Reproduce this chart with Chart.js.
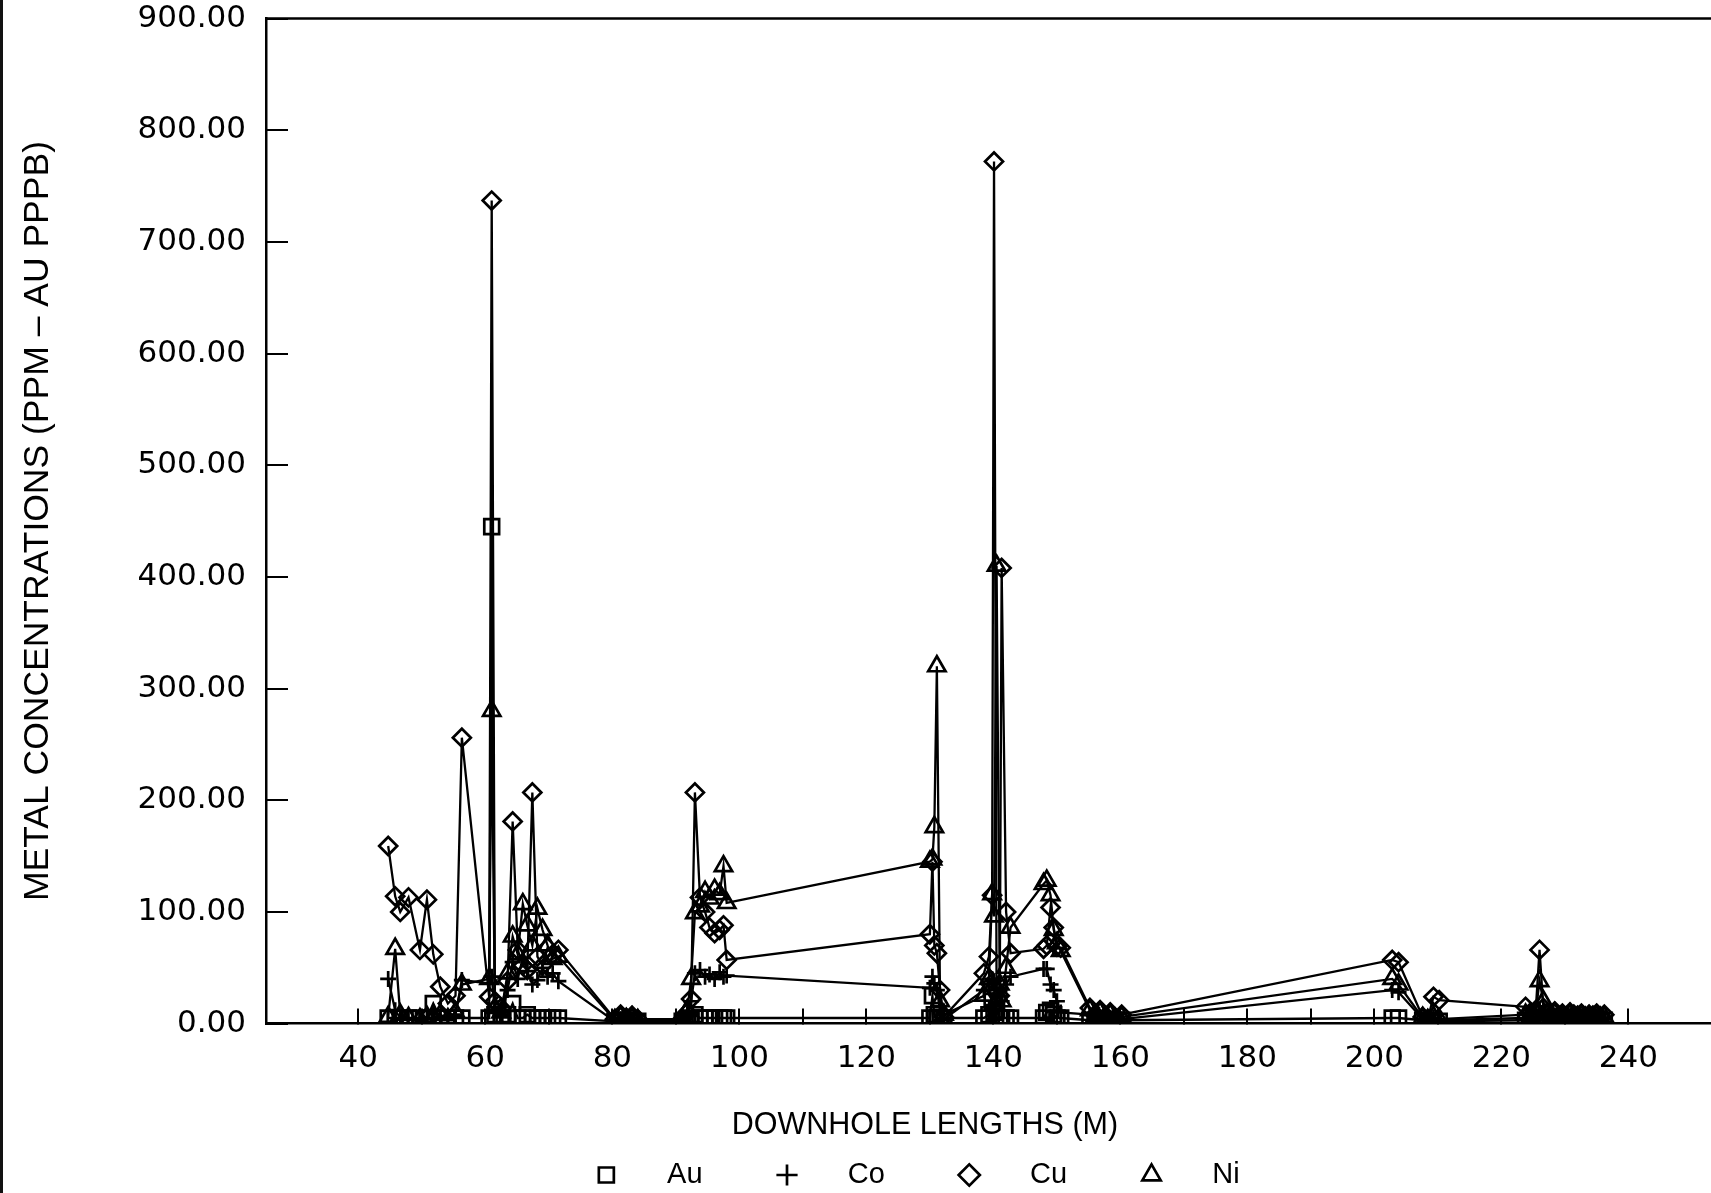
<!DOCTYPE html>
<html>
<head>
<meta charset="utf-8">
<title>Metal concentrations vs downhole length</title>
<script src="https://cdn.jsdelivr.net/npm/chart.js@4.4.1/dist/chart.umd.min.js"></script>
<style>
  html, body { margin: 0; padding: 0; background: #fff; overflow: hidden; }
  body { width: 1711px; height: 1193px; box-shadow: inset 3px 0 0 #111; }
  canvas { display: block; }
</style>
</head>
<body>
<canvas id="metalChart" width="1711" height="1193"></canvas>
<script>
// sample depths (m), shared by the four assays
const depths = [
  44.7, 45.8, 46.6, 47.9, 49.7, 50.8, 51.8, 52.9, 54.1, 55.3, 56.3,
  60.6, 61.0, 61.5, 62.5,
  63.5, 64.3, 65.1, 65.9, 66.6, 67.4, 68.2, 69.0, 69.8, 70.6, 71.5,
  80.4, 81.3, 82.2, 83.1, 84.0,
  91.0, 91.8, 92.4, 93.0, 93.8, 94.6, 95.3, 96.1, 96.9, 97.5, 98.0,
  130.0, 130.4, 130.7, 131.1, 131.6, 132.2,
  138.5, 139.3, 139.8, 140.1, 140.5, 141.0, 141.3, 142.0, 142.7,
  147.9, 148.4, 149.0, 149.5, 150.0, 150.6,
  155.2, 156.0, 156.8, 157.6, 158.4, 159.2, 160.2,
  202.8, 203.8,
  207.6, 208.4, 209.3, 210.2,
  223.8, 224.6, 225.4, 226.0, 226.6, 227.2, 227.8, 228.4, 229.0, 229.6, 230.2,
  230.8, 231.4, 232.0, 232.6, 233.2, 233.8, 234.4, 235.0, 235.6, 236.2
];

// Au in ppb, the rest in ppm
const au = [
  5, 5, 5, 5, 5, 5, 18, 5, 5, 5, 5,
  5, 445, 8, 5,
  8, 18, 5, 5, 8, 5, 5, 5, 5, 5, 5,
  2, 3, 2, 3, 2,
  2, 3, 5, 8, 5, 5, 5, 5, 5, 5, 5,
  5, 25, 8, 5, 5, 5,
  5, 8, 20, 10, 12, 5, 5, 5, 5,
  5, 10, 12, 8, 5, 5,
  3, 2, 4, 2, 3, 2, 3,
  5, 5,
  3, 2, 3, 2,
  3, 2, 3, 4, 3, 2, 3, 2, 3, 2, 3, 2, 3, 2, 3, 2, 3, 2, 3, 2, 3
];
const co = [
  40, 12, 5, 4, 3, 5, 4, 6, 3, 8, 39,
  36, 42, 12, 8,
  30, 55, 40, 59, 47, 35, 39, 50, 42, 45, 38,
  2, 4, 3, 4, 2,
  2, 8, 20, 45, 48, 42, 44, 40, 46, 42, 43,
  32, 42, 36, 30, 12, 4,
  30, 35, 40, 38, 30, 25, 20, 35, 42,
  49, 49, 35, 30, 20, 10,
  8, 4, 6, 3, 5, 3, 4,
  30, 28,
  4, 2, 5, 3,
  5, 4, 6, 12, 8, 5, 4, 6, 3, 5, 3, 5, 4, 3, 5, 3, 4, 3, 5, 3, 4
];
const cu = [
  159, 114, 100, 113, 66, 111, 62, 33, 18, 25, 256,
  24, 737, 20, 14,
  38, 181, 66, 52, 48, 207, 60, 52, 68, 62, 66,
  4, 8, 5, 7, 4,
  4, 10, 22, 207, 113, 100, 86, 81, 84, 88, 57,
  80, 145, 70, 63, 30, 6,
  45, 60, 115, 772, 30, 25, 408, 100, 63,
  67, 70, 104, 86, 69, 68,
  14, 8, 12, 6, 10, 5, 8,
  57, 55,
  6, 4, 24, 21,
  15, 10, 12, 66, 14, 10, 8, 11, 7, 9, 6, 10, 8, 7, 9, 6, 8, 7, 9, 6, 8
];
const ni = [
  6, 67, 8, 5, 4, 6, 5, 8, 4, 10, 35,
  40, 280, 14, 10,
  45, 78, 62, 107, 88, 70, 103, 84, 70, 58, 60,
  3, 6, 4, 5, 3,
  3, 12, 40, 99, 105, 118, 112, 120, 116, 141, 108,
  145, 147, 176, 320, 20, 8,
  25, 40, 116, 96, 410, 35, 20, 50, 86,
  125, 128, 115, 84, 72, 65,
  12, 6, 10, 5, 8, 4, 6,
  40, 35,
  5, 3, 6, 4,
  8, 6, 10, 38, 20, 8, 6, 9, 5, 7, 5, 8, 6, 5, 7, 5, 6, 5, 7, 5, 6
];

const seriesNames = ['Au', 'Co', 'Cu', 'Ni'];
const xTickValues = [40, 50, 60, 70, 80, 90, 100, 110, 120, 130, 140, 150, 160,
                     170, 180, 190, 200, 210, 220, 230, 240];
const xLabelValues = [40, 60, 80, 100, 120, 140, 160, 180, 200, 220, 240];
const yTickValues = [0, 100, 200, 300, 400, 500, 600, 700, 800, 900];

const X_MIN = 25.46, X_MAX = 253.0;

Chart.defaults.font.family = 'Liberation Sans';
Chart.defaults.color = '#000';

const toPoints = vals => depths.map((d, i) => ({ x: d, y: vals[i] }));

function makeSet(label, vals, pointStyle, radius) {
    return {
        label: label,
        data: toPoints(vals),
        borderColor: '#000',
        borderWidth: 2.3,
        pointStyle: pointStyle,
        pointRadius: radius,
        pointBorderColor: '#000',
        pointBorderWidth: 2.7,
        pointBackgroundColor: 'rgba(0,0,0,0)',
        tension: 0
    };
}

// closes the plot frame along the top edge
const topBorder = {
    id: 'topBorder',
    afterDraw(chart) {
        const { ctx, chartArea } = chart;
        ctx.save();
        ctx.strokeStyle = '#000';
        ctx.lineWidth = 2.5;
        ctx.beginPath();
        ctx.moveTo(chartArea.left, chartArea.top);
        ctx.lineTo(chartArea.right, chartArea.top);
        ctx.stroke();
        ctx.restore();
    }
};

const tickFont = { family: 'DejaVu Sans', size: 31 };

new Chart(document.getElementById('metalChart'), {
    type: 'line',
    data: {
        datasets: [
            makeSet(seriesNames[0], au, 'rect', 10.5),
            makeSet(seriesNames[1], co, 'cross', 8),
            makeSet(seriesNames[2], cu, 'rectRot', 9),
            makeSet(seriesNames[3], ni, 'triangle', 10)
        ]
    },
    plugins: [topBorder],
    options: {
        responsive: false,
        animation: false,
        devicePixelRatio: 1,
        layout: {
            autoPadding: false,
            padding: { top: 18.5, right: 0, bottom: -6.5, left: 0 }
        },
        scales: {
            x: {
                type: 'linear',
                min: X_MIN,
                max: X_MAX,
                afterBuildTicks: s => { s.ticks = xTickValues.map(v => ({ value: v })); },
                afterFit: s => {
                    s.height = 130.9;
                    s.paddingLeft = 0;
                    s.paddingRight = 0;
                },
                ticks: {
                    autoSkip: false,
                    maxRotation: 0,
                    padding: 31.3,
                    font: tickFont,
                    callback: v => xLabelValues.includes(v) ? String(v) : ''
                },
                grid: { drawOnChartArea: false, tickLength: -15, lineWidth: 2, color: '#000' },
                border: { display: true, color: '#000', width: 2.5 },
                title: {
                    display: true,
                    // trailing spaces pull the centred title left, as in the original plot
                    text: 'DOWNHOLE LENGTHS (M)' + ' '.repeat(15),
                    font: { size: 30.5 },
                    padding: { top: 0, bottom: 10.9 }
                }
            },
            y: {
                min: 0,
                max: 900,
                afterBuildTicks: s => { s.ticks = yTickValues.map(v => ({ value: v })); },
                afterFit: s => {
                    s.width = 266;
                    s.paddingTop = 0;
                    s.paddingBottom = 0;
                },
                ticks: {
                    padding: 42,
                    font: tickFont,
                    callback: v => Number(v).toFixed(2)
                },
                grid: { drawOnChartArea: false, tickLength: -22, lineWidth: 2, color: '#000' },
                border: { display: true, color: '#000', width: 2.5 },
                title: {
                    display: true,
                    text: 'METAL CONCENTRATIONS (PPM \u2013 AU PPPB)',
                    font: { size: 35.5 },
                    padding: { top: 17, bottom: 0 }
                }
            }
        },
        plugins: {
            tooltip: { enabled: false },
            legend: {
                position: 'bottom',
                fullSize: false,
                labels: {
                    usePointStyle: true,
                    boxWidth: 28,
                    boxHeight: 15,
                    padding: 6,
                    color: '#000',
                    font: { family: 'Liberation Sans', size: 29 },
                    generateLabels: chart => {
                        const items = Chart.defaults.plugins.legend.labels.generateLabels(chart);
                        items.forEach((item, i) => {
                            const tail = i === items.length - 1 ? 18 : 8;
                            item.text = '    ' + item.text + ' '.repeat(tail);
                        });
                        return items;
                    }
                }
            }
        }
    }
});
</script>
</body>
</html>
